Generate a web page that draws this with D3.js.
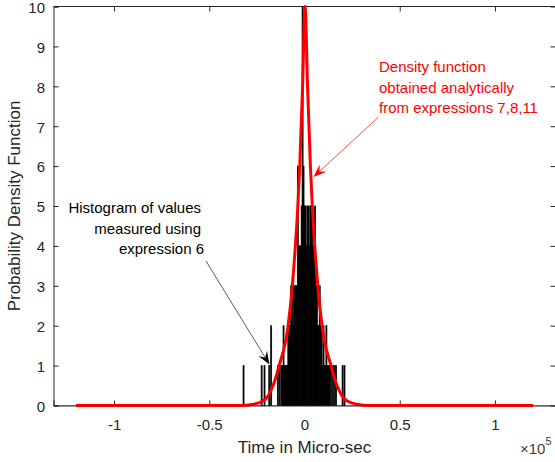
<!DOCTYPE html>
<html>
<head>
<meta charset="utf-8">
<script src="https://cdn.jsdelivr.net/npm/d3@7/dist/d3.min.js"></script>
<style>
  html, body { margin: 0; padding: 0; background: #fff; }
  svg { display: block; }
  text { font-family: "Liberation Sans", Arial, Helvetica, sans-serif; }
</style>
</head>
<body>
<svg id="chart" width="555" height="462"></svg>
<script>
// ---------------- DATA (x in units of 1e5 micro-sec) ----------------
const xTickValues = [-1, -0.5, 0, 0.5, 1];
const xTickLabels = ["-1", "-0.5", "0", "0.5", "1"];
const yTickValues = [0, 1, 2, 3, 4, 5, 6, 7, 8, 9, 10];
const yTickLabels = ["0", "1", "2", "3", "4", "5", "6", "7", "8", "9", "10"];

// Histogram of measured values (bin centres and density heights)
const histBinWidth = 0.005;
const histX = [-0.32, -0.225, -0.21, -0.185, -0.175, -0.14, -0.13, -0.12, -0.115, -0.11,
  -0.105, -0.1, -0.095, -0.09, -0.085, -0.08, -0.075, -0.07, -0.065, -0.06, -0.055,
  -0.05, -0.045, -0.04, -0.035, -0.03, -0.025, -0.02, -0.015, -0.01, -0.005, 0, 0.005,
  0.01, 0.015, 0.02, 0.025, 0.03, 0.035, 0.04, 0.045, 0.05, 0.055, 0.06, 0.065, 0.07,
  0.075, 0.08, 0.085, 0.09, 0.095, 0.1, 0.105, 0.11, 0.115, 0.12, 0.125, 0.13, 0.135,
  0.145, 0.155, 0.165, 0.2, 0.21];
const histY = [1, 1, 1, 1, 2, 1, 1, 1, 1, 2,
  1, 1, 1, 1, 2, 2, 2, 3, 3, 2, 3,
  3, 3, 3, 6, 4, 4, 4, 5, 10, 6, 5, 5,
  4, 5, 5, 4, 5, 5, 5, 4, 4, 5, 3, 3, 2,
  2, 3, 2, 2, 1, 2, 1, 1, 2, 1, 1, 1, 1,
  1, 1, 1, 1, 1];

// Analytical density function
const curveX = [-1.2, -0.5, -0.338, -0.27, -0.223, -0.197, -0.165, -0.133, -0.086, -0.064,
  -0.048, -0.035, -0.025, -0.010, 0.003, 0.016, 0.031, 0.041, 0.054, 0.070, 0.092,
  0.139, 0.171, 0.203, 0.229, 0.276, 0.344, 0.5, 1.2];
const curveY = [0, 0, 0, 0.03, 0.1, 0.2, 0.5, 1, 2, 3,
  4, 5, 6, 8, 10, 8, 6, 5, 4, 3, 2,
  1, 0.5, 0.2, 0.1, 0.03, 0, 0, 0];

const redNote = ["Density function", "obtained analytically", "from expressions 7,8,11"];
const blackNote = ["Histogram of values", "measured using", "expression 6"];

// ---------------- CHART ----------------
const svg = d3.select("#chart");
const axisColor = "#262626";
const L = 53.5, R = 555.5, T = 6.5, B = 405.5;

const x = d3.scaleLinear().domain([-1.318, 1.318]).range([L, R]);
const y = d3.scaleLinear().domain([0, 10]).range([B, T]);

svg.append("rect").attr("width", 555).attr("height", 462).attr("fill", "#fff");

// box lines (drawn beneath data, like MATLAB Layer='bottom')
const box = svg.append("g");
box.append("line").attr("x1", L).attr("x2", R).attr("y1", T).attr("y2", T).attr("stroke", axisColor);
box.append("line").attr("x1", R).attr("x2", R).attr("y1", T).attr("y2", B).attr("stroke", axisColor);

const fmtX = d => xTickLabels[xTickValues.indexOf(d)];
const fmtY = d => yTickLabels[yTickValues.indexOf(d)];

const gx = svg.append("g").attr("transform", `translate(0,${B})`)
  .call(d3.axisBottom(x).tickValues(xTickValues).tickFormat(fmtX).tickSize(-5).tickPadding(13.5));
const gxt = svg.append("g").attr("transform", `translate(0,${T})`)
  .call(d3.axisTop(x).tickValues(xTickValues).tickFormat("").tickSize(-5));
const gy = svg.append("g").attr("transform", `translate(${L},0)`)
  .call(d3.axisLeft(y).tickValues(yTickValues).tickFormat(fmtY).tickSize(-5).tickPadding(8.5));
const gyr = svg.append("g").attr("transform", `translate(${R},0)`)
  .call(d3.axisRight(y).tickValues(yTickValues).tickFormat("").tickSize(-5));

[gx, gxt, gy, gyr].forEach(g => {
  g.selectAll("path.domain").attr("stroke", axisColor);
  g.selectAll(".tick line").attr("stroke", axisColor);
  g.selectAll(".tick text").attr("fill", axisColor).style("font-size", "15px")
    .style("font-family", '"Liberation Sans", Arial, sans-serif');
});
gy.selectAll(".tick text").attr("dy", "0.39em");
gxt.select("path.domain").remove();
gyr.select("path.domain").remove();

// histogram bars
svg.append("g").selectAll("rect").data(histX.map((c, i) => ({ c, v: histY[i] })))
  .join("rect")
  .attr("x", d => x(d.c - histBinWidth / 2))
  .attr("width", d => x(d.c + histBinWidth / 2) - x(d.c - histBinWidth / 2))
  .attr("y", d => y(d.v))
  .attr("height", d => y(0) - y(d.v))
  .attr("fill", "#000")
  .attr("stroke", "#000")
  .attr("stroke-width", 0.8);

// analytic curve
const line = d3.line().x(d => x(d[0])).y(d => y(d[1])).curve(d3.curveMonotoneX);
svg.append("path")
  .datum(curveX.map((v, i) => [v, curveY[i]]))
  .attr("d", line)
  .attr("fill", "none")
  .attr("stroke", "#ff0000")
  .attr("stroke-width", 3)
  .attr("stroke-linejoin", "round");

// baseline overlay slightly darkening the flat part of the curve
svg.append("line").attr("x1", L).attr("x2", R).attr("y1", B).attr("y2", B)
  .attr("stroke", axisColor).attr("stroke-opacity", 0.45);

// axis labels
svg.append("text").attr("x", x(0)).attr("y", 453).attr("text-anchor", "middle")
  .attr("fill", axisColor).style("font-size", "17px").text("Time in Micro-sec");
svg.append("text").attr("transform", `translate(20,${(T + B) / 2}) rotate(-90)`)
  .attr("text-anchor", "middle").attr("fill", axisColor).style("font-size", "17px")
  .text("Probability Density Function");
const ex = svg.append("text").attr("x", 520).attr("y", 454).attr("fill", "#404040")
  .style("font-size", "15px");
ex.append("tspan").text("\u00d710");
ex.append("tspan").attr("dy", -9).style("font-size", "11px").text("5");

// arrow helper (MATLAB 'vback2' style head)
function arrow(x1, y1, x2, y2, color, lineColor, hl, hw) {
  const g = svg.append("g");
  const ang = Math.atan2(y2 - y1, x2 - x1);
  const ux = Math.cos(ang), uy = Math.sin(ang);
  const px = -uy, py = ux;
  const bx = x2 - ux * hl, by = y2 - uy * hl;
  const nx = x2 - ux * hl * 0.62, ny = y2 - uy * hl * 0.62;
  g.append("line").attr("x1", x1).attr("y1", y1).attr("x2", nx).attr("y2", ny)
    .attr("stroke", lineColor).attr("stroke-width", 0.8);
  g.append("path")
    .attr("d", `M${x2},${y2}L${bx + px * hw / 2},${by + py * hw / 2}L${nx},${ny}L${bx - px * hw / 2},${by - py * hw / 2}Z`)
    .attr("fill", color);
}

arrow(378.5, 117, 313.5, 177, "#ff0000", "#ff2020", 13, 10);
arrow(206, 261, 269.5, 364.5, "#000", "#333", 13, 10);

// annotations text
const rt = svg.append("g").attr("fill", "#ff0000").style("font-size", "15px");
redNote.forEach((s, i) => rt.append("text").attr("x", 379).attr("y", 72 + i * 20.5).text(s));
const bt = svg.append("g").attr("fill", "#000").style("font-size", "15px").attr("text-anchor", "end");
blackNote.forEach((s, i) => bt.append("text").attr("x", i === 2 ? 204 : 201).attr("y", 213 + i * 20.5).text(s));
</script>
</body>
</html>
